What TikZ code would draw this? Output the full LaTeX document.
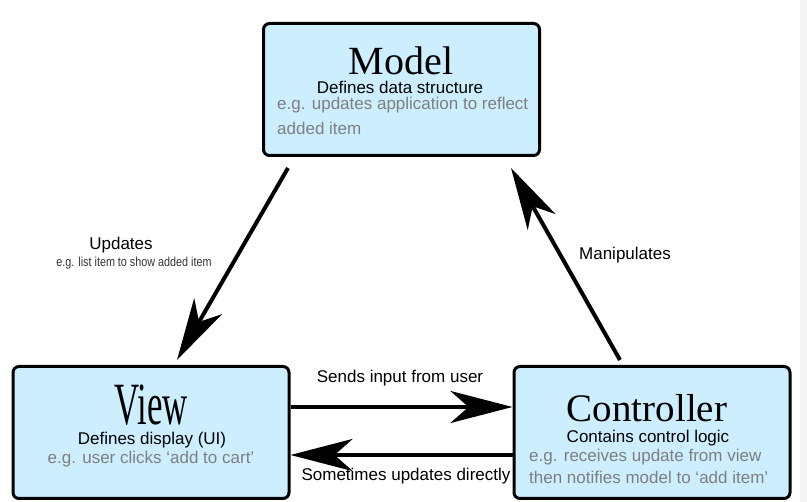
\documentclass[tikz,border=0pt]{standalone}
\usepackage{fontspec}
\setmainfont{Liberation Sans}
\newfontfamily\titlefont{Liberation Serif}
\usetikzlibrary{arrows.meta}
\definecolor{boxblue}{HTML}{CCEEFF}
\definecolor{notegray}{HTML}{7F7F7F}
\begin{document}
\begin{tikzpicture}[x=1pt,y=-1pt]
	\tikzstyle{every node}+=[inner sep=0pt]
	\tikzstyle{box}=[draw=black, line width=3pt, fill=boxblue, rounded corners=6pt, minimum width=276pt, minimum height=132pt]
	\tikzstyle{title}=[font=\titlefont\fontsize{40}{40}\selectfont, anchor=base, text depth=0pt]
	\tikzstyle{role}=[font=\fontsize{17}{20}\selectfont, anchor=base]
	\tikzstyle{note}=[font=\fontsize{17}{20}\selectfont, text=notegray]
	\tikzstyle{flow}=[line width=4pt, -{Stealth[length=62pt,width=32pt,inset=18pt]}]
	\useasboundingbox (0,0) rectangle (807,502);
	\fill [black!4] (800,0) rectangle (807,502);
	\node [box] (model) at (401.5,89.5) {};
	\node [box] (view) at (151,432.5) {};
	\node [box] (controller) at (652,432.5) {};
	\node [title] (modeltitle) at (401,75) {Model};
	\node [role] (modelrole) at (400,94) {Defines data structure};
	\node [note, anchor=base west] (modelnote1) at (277,110) {e.g. updates application to reflect};
	\node [note, anchor=base west] (modelnote2) at (277,135) {added item};
	\node [title] (viewtitle) at (151,425) {\scalebox{0.58}[1]{\fontsize{60}{60}\selectfont View}};
	\node [role] (viewrole) at (152,445) {Defines display (UI)};
	\node [note, anchor=base] (viewnote) at (151,464) {e.g. user clicks ‘add to cart’};
	\node [title] (controllertitle) at (647,422) {\fontsize{39}{39}\selectfont Controller};
	\node [role] (controllerrole) at (648,443) {Contains control logic};
	\node [note, anchor=base west] (controllernote1) at (529,462) {e.g. receives update from view};
	\node [note, anchor=base west] (controllernote2) at (529,484) {then notifies model to ‘add item’};
	\draw [flow] ([xshift=26pt,yshift=-11pt]model.south west) -- ([xshift=26pt,yshift=5pt]view.north);
	\node [role] (updates) at (121,250) {Updates};
	\node [anchor=base, text=black!80] (updatesnote) at (134,267) {\scalebox{0.83}[1]{\fontsize{13}{15}\selectfont e.g. list item to show added item}};
	\draw [flow] ([xshift=-32pt,yshift=5pt]controller.north) -- ([xshift=-30pt,yshift=-11pt]model.south east);
	\node [role] (manipulates) at (625,260) {Manipulates};
	\draw [flow, line width=4.5pt] ([yshift=25.5pt]view.east) -- ([yshift=25.5pt]controller.west);
	\node [role] (sends) at (400,383) {Sends input from user};
	\draw [flow, line width=4.5pt] ([yshift=-22.5pt]controller.west) -- ([yshift=-22.5pt]view.east);
	\node [role] (sometimes) at (406,481) {Sometimes updates directly};
\end{tikzpicture}
\end{document}
